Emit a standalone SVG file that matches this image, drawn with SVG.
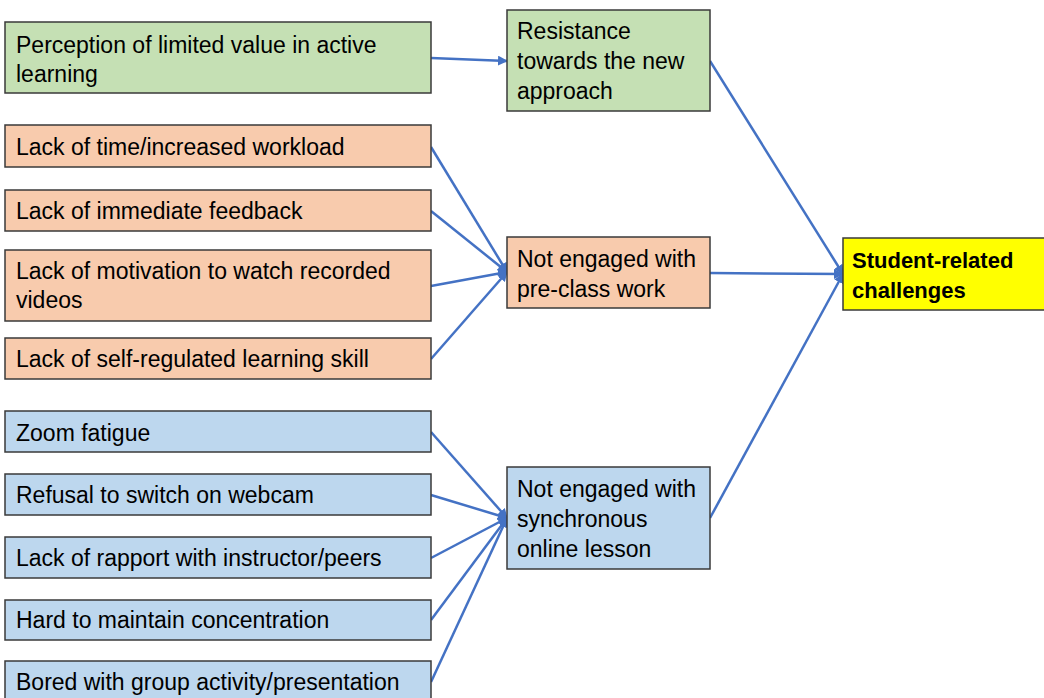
<svg xmlns="http://www.w3.org/2000/svg" width="1044" height="698" viewBox="0 0 1044 698">
<style>
.box{stroke:#3a3a3a;stroke-width:1.5}
.g{fill:#C5E0B4}.o{fill:#F8CBAD}.b{fill:#BDD7EE}.y{fill:#FFFF00}
text{font-family:"Liberation Sans",Arial,sans-serif;font-size:23px;fill:#000;dominant-baseline:central}
.bold{font-weight:bold;font-size:22px}
.c{stroke:#4472C4;stroke-width:2.5;fill:none;marker-end:url(#ah)}
</style>
<defs>
<marker id="ah" viewBox="0 0 10 10" refX="9" refY="5" markerWidth="4" markerHeight="4" orient="auto" markerUnits="strokeWidth">
<path d="M0,0 L10,5 L0,10 z" fill="#4472C4"/>
</marker>
</defs>
<g id="connectors">
<line class="c" x1="431" y1="58" x2="507" y2="61"/>
<line class="c" x1="431" y1="147" x2="507" y2="272"/>
<line class="c" x1="431" y1="211" x2="507" y2="272"/>
<line class="c" x1="431" y1="286" x2="507" y2="272"/>
<line class="c" x1="431" y1="359" x2="507" y2="272"/>
<line class="c" x1="431" y1="432" x2="507" y2="518"/>
<line class="c" x1="431" y1="495" x2="507" y2="518"/>
<line class="c" x1="431" y1="558" x2="507" y2="518"/>
<line class="c" x1="431" y1="620" x2="507" y2="518"/>
<line class="c" x1="431" y1="682" x2="507" y2="518"/>
<line class="c" x1="710" y1="61" x2="843" y2="274"/>
<line class="c" x1="710" y1="273" x2="843" y2="274"/>
<line class="c" x1="710" y1="518" x2="843" y2="274"/>
</g>
<g id="n1"><rect class="box g" x="5" y="22" width="426" height="71"/><text x="16" y="45">Perception of limited value in active</text><text x="16" y="74">learning</text></g>
<g id="n2"><rect class="box o" x="5" y="125" width="426" height="42"/><text x="16" y="147">Lack of time/increased workload</text></g>
<g id="n3"><rect class="box o" x="5" y="190" width="426" height="41"/><text x="16" y="211">Lack of immediate feedback</text></g>
<g id="n4"><rect class="box o" x="5" y="250" width="426" height="71"/><text x="16" y="271">Lack of motivation to watch recorded</text><text x="16" y="300">videos</text></g>
<g id="n5"><rect class="box o" x="5" y="338" width="426" height="41"/><text x="16" y="359">Lack of self-regulated learning skill</text></g>
<g id="n6"><rect class="box b" x="5" y="411" width="426" height="41"/><text x="16" y="433">Zoom fatigue</text></g>
<g id="n7"><rect class="box b" x="5" y="474" width="426" height="41"/><text x="16" y="495">Refusal to switch on webcam</text></g>
<g id="n8"><rect class="box b" x="5" y="537" width="426" height="41"/><text x="16" y="558">Lack of rapport with instructor/peers</text></g>
<g id="n9"><rect class="box b" x="5" y="600" width="426" height="40"/><text x="16" y="620">Hard to maintain concentration</text></g>
<g id="n10"><rect class="box b" x="5" y="661" width="426" height="50"/><text x="16" y="682">Bored with group activity/presentation</text></g>
<g id="m1"><rect class="box g" x="507" y="10" width="203" height="101"/><text x="517" y="31">Resistance</text><text x="517" y="61">towards the new</text><text x="517" y="91">approach</text></g>
<g id="m2"><rect class="box o" x="507" y="237" width="203" height="71"/><text x="517" y="259">Not engaged with</text><text x="517" y="289">pre-class work</text></g>
<g id="m3"><rect class="box b" x="507" y="467" width="203" height="102"/><text x="517" y="489">Not engaged with</text><text x="517" y="519">synchronous</text><text x="517" y="549">online lesson</text></g>
<g id="r"><rect class="box y" x="843" y="238" width="210" height="72"/><text class="bold" x="852" y="260">Student-related</text><text class="bold" x="852" y="290">challenges</text></g>
</svg>
